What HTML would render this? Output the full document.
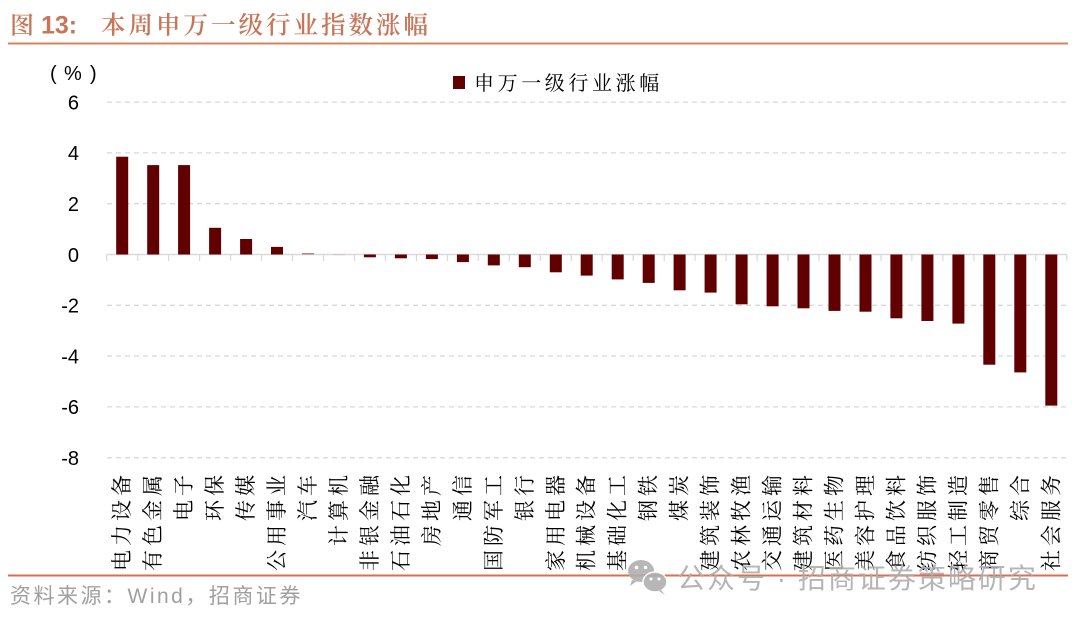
<!DOCTYPE html>
<html>
<head>
<meta charset="utf-8">
<style>
html,body{margin:0;padding:0;background:#fff;}
svg{display:block;}
</style>
</head>
<body>
<svg width="1080" height="620" viewBox="0 0 1080 620" xmlns="http://www.w3.org/2000/svg">
  <rect width="1080" height="620" fill="#fff"/>

  <!-- Title -->
  <text x="10" y="33.5" font-family="'Noto Serif CJK SC', serif" font-weight="600" font-size="24" fill="#c8765a">图</text>
  <text x="41" y="33.5" font-family="'Liberation Sans', sans-serif" font-weight="bold" font-size="25" fill="#c8765a">13:</text>
  <text x="101" y="33.5" font-family="'Liberation Sans','Noto Serif CJK SC', serif" font-weight="600" font-size="24.5" letter-spacing="3" fill="#c8765a">本周申万一级行业指数涨幅</text>
  <line x1="8" y1="43.5" x2="1068" y2="43.5" stroke="#d4845f" stroke-width="2"/>

  <!-- Unit label -->
  <text x="50" y="80" font-family="'Liberation Sans', sans-serif" font-size="20" fill="#000">(</text>
  <text x="64" y="80" font-family="'Liberation Sans', sans-serif" font-size="20" fill="#000">%</text>
  <text x="90" y="80" font-family="'Liberation Sans', sans-serif" font-size="20" fill="#000">)</text>

  <!-- Legend -->
  <rect x="453" y="76" width="12" height="13" fill="#600000"/>
  <text x="474" y="90" font-family="'Liberation Serif','Noto Serif CJK SC', serif" font-size="20" letter-spacing="3.6" fill="#000">申万一级行业涨幅</text>

  <!-- Gridlines -->
  <g stroke="#d9d9d9" stroke-width="1.3" stroke-dasharray="5,4">
    <line x1="107" y1="102.1" x2="1067" y2="102.1"/>
    <line x1="107" y1="152.9" x2="1067" y2="152.9"/>
    <line x1="107" y1="203.7" x2="1067" y2="203.7"/>
    <line x1="107" y1="305.3" x2="1067" y2="305.3"/>
    <line x1="107" y1="356.1" x2="1067" y2="356.1"/>
    <line x1="107" y1="406.9" x2="1067" y2="406.9"/>
    <line x1="107" y1="457.7" x2="1067" y2="457.7"/>
  </g>

  <!-- Y tick labels -->
  <g font-family="'Liberation Sans', sans-serif" font-size="20" fill="#000" text-anchor="end">
    <text x="79" y="109.4">6</text>
    <text x="79" y="160.2">4</text>
    <text x="79" y="211">2</text>
    <text x="79" y="261.8">0</text>
    <text x="79" y="312.6">-2</text>
    <text x="79" y="363.4">-4</text>
    <text x="79" y="414.2">-6</text>
    <text x="79" y="465">-8</text>
  </g>

  <!-- Zero axis and ticks -->
  <line x1="106.7" y1="254.5" x2="1066.8" y2="254.5" stroke="#d9d9d9" stroke-width="1.5"/>
  <g stroke="#d9d9d9" stroke-width="1.2">
    <line x1="106.7" y1="254.5" x2="106.7" y2="261"/>
    <line x1="137.7" y1="254.5" x2="137.7" y2="261"/>
    <line x1="168.6" y1="254.5" x2="168.6" y2="261"/>
    <line x1="199.6" y1="254.5" x2="199.6" y2="261"/>
    <line x1="230.6" y1="254.5" x2="230.6" y2="261"/>
    <line x1="261.6" y1="254.5" x2="261.6" y2="261"/>
    <line x1="292.5" y1="254.5" x2="292.5" y2="261"/>
    <line x1="323.5" y1="254.5" x2="323.5" y2="261"/>
    <line x1="354.5" y1="254.5" x2="354.5" y2="261"/>
    <line x1="385.4" y1="254.5" x2="385.4" y2="261"/>
    <line x1="416.4" y1="254.5" x2="416.4" y2="261"/>
    <line x1="447.4" y1="254.5" x2="447.4" y2="261"/>
    <line x1="478.3" y1="254.5" x2="478.3" y2="261"/>
    <line x1="509.3" y1="254.5" x2="509.3" y2="261"/>
    <line x1="540.3" y1="254.5" x2="540.3" y2="261"/>
    <line x1="571.3" y1="254.5" x2="571.3" y2="261"/>
    <line x1="602.2" y1="254.5" x2="602.2" y2="261"/>
    <line x1="633.2" y1="254.5" x2="633.2" y2="261"/>
    <line x1="664.2" y1="254.5" x2="664.2" y2="261"/>
    <line x1="695.1" y1="254.5" x2="695.1" y2="261"/>
    <line x1="726.1" y1="254.5" x2="726.1" y2="261"/>
    <line x1="757.1" y1="254.5" x2="757.1" y2="261"/>
    <line x1="788" y1="254.5" x2="788" y2="261"/>
    <line x1="819" y1="254.5" x2="819" y2="261"/>
    <line x1="850" y1="254.5" x2="850" y2="261"/>
    <line x1="881" y1="254.5" x2="881" y2="261"/>
    <line x1="911.9" y1="254.5" x2="911.9" y2="261"/>
    <line x1="942.9" y1="254.5" x2="942.9" y2="261"/>
    <line x1="973.9" y1="254.5" x2="973.9" y2="261"/>
    <line x1="1004.8" y1="254.5" x2="1004.8" y2="261"/>
    <line x1="1035.8" y1="254.5" x2="1035.8" y2="261"/>
    <line x1="1066.8" y1="254.5" x2="1066.8" y2="261"/>
  </g>

  <!-- Bars -->
  <g fill="#600000">
    <rect x="116.2" y="156.7" width="12" height="97.8"/>
    <rect x="147.2" y="165.1" width="12" height="89.4"/>
    <rect x="178.1" y="165.1" width="12" height="89.4"/>
    <rect x="209.1" y="227.8" width="12" height="26.7"/>
    <rect x="240.1" y="239" width="12" height="15.5"/>
    <rect x="271" y="246.9" width="12" height="7.6"/>
    <rect x="302" y="253" width="12" height="1.5" fill="#b88888"/>
    <rect x="333" y="254.5" width="12" height="0.6" fill="#d0b0b0"/>
    <rect x="363.9" y="254.5" width="12" height="2.8"/>
    <rect x="394.9" y="254.5" width="12" height="3.8"/>
    <rect x="425.9" y="254.5" width="12" height="4.6"/>
    <rect x="456.9" y="254.5" width="12" height="7.6"/>
    <rect x="487.8" y="254.5" width="12" height="10.9"/>
    <rect x="518.8" y="254.5" width="12" height="12.7"/>
    <rect x="549.8" y="254.5" width="12" height="17.8"/>
    <rect x="580.7" y="254.5" width="12" height="21.1"/>
    <rect x="611.7" y="254.5" width="12" height="24.9"/>
    <rect x="642.7" y="254.5" width="12" height="28.4"/>
    <rect x="673.6" y="254.5" width="12" height="35.8"/>
    <rect x="704.6" y="254.5" width="12" height="38.1"/>
    <rect x="735.6" y="254.5" width="12" height="49.8"/>
    <rect x="766.6" y="254.5" width="12" height="51.8"/>
    <rect x="797.5" y="254.5" width="12" height="53.8"/>
    <rect x="828.5" y="254.5" width="12" height="56.4"/>
    <rect x="859.5" y="254.5" width="12" height="57.2"/>
    <rect x="890.4" y="254.5" width="12" height="63.8"/>
    <rect x="921.4" y="254.5" width="12" height="66.5"/>
    <rect x="952.4" y="254.5" width="12" height="69.1"/>
    <rect x="983.3" y="254.5" width="12" height="110.2"/>
    <rect x="1014.3" y="254.5" width="12" height="117.9"/>
    <rect x="1045.3" y="254.5" width="12" height="151.1"/>
  </g>

  <!-- X labels (rotated) -->
  <g font-family="'Liberation Serif','Noto Serif CJK SC', serif" font-size="21" fill="#000" letter-spacing="4" dominant-baseline="central">
    <text transform="translate(122.2,571) rotate(-90)">电力设备</text>
    <text transform="translate(153.2,571) rotate(-90)">有色金属</text>
    <text transform="translate(184.1,521) rotate(-90)">电子</text>
    <text transform="translate(215.1,521) rotate(-90)">环保</text>
    <text transform="translate(246.1,521) rotate(-90)">传媒</text>
    <text transform="translate(277,571) rotate(-90)">公用事业</text>
    <text transform="translate(308,521) rotate(-90)">汽车</text>
    <text transform="translate(339,546) rotate(-90)">计算机</text>
    <text transform="translate(369.9,571) rotate(-90)">非银金融</text>
    <text transform="translate(400.9,571) rotate(-90)">石油石化</text>
    <text transform="translate(431.9,546) rotate(-90)">房地产</text>
    <text transform="translate(462.9,521) rotate(-90)">通信</text>
    <text transform="translate(493.8,571) rotate(-90)">国防军工</text>
    <text transform="translate(524.8,521) rotate(-90)">银行</text>
    <text transform="translate(555.8,571) rotate(-90)">家用电器</text>
    <text transform="translate(586.7,571) rotate(-90)">机械设备</text>
    <text transform="translate(617.7,571) rotate(-90)">基础化工</text>
    <text transform="translate(648.7,521) rotate(-90)">钢铁</text>
    <text transform="translate(679.6,521) rotate(-90)">煤炭</text>
    <text transform="translate(710.6,571) rotate(-90)">建筑装饰</text>
    <text transform="translate(741.6,571) rotate(-90)">农林牧渔</text>
    <text transform="translate(772.6,571) rotate(-90)">交通运输</text>
    <text transform="translate(803.5,571) rotate(-90)">建筑材料</text>
    <text transform="translate(834.5,571) rotate(-90)">医药生物</text>
    <text transform="translate(865.5,571) rotate(-90)">美容护理</text>
    <text transform="translate(896.4,571) rotate(-90)">食品饮料</text>
    <text transform="translate(927.4,571) rotate(-90)">纺织服饰</text>
    <text transform="translate(958.4,571) rotate(-90)">轻工制造</text>
    <text transform="translate(989.3,571) rotate(-90)">商贸零售</text>
    <text transform="translate(1020.3,521) rotate(-90)">综合</text>
    <text transform="translate(1051.3,571) rotate(-90)">社会服务</text>
  </g>

  <!-- Footer line -->
  <line x1="8" y1="575.5" x2="1068" y2="575.5" stroke="#d8704f" stroke-width="2"/>

  <!-- Source -->
  <text x="10" y="603" font-family="'Liberation Sans','Noto Sans CJK SC', sans-serif" font-size="21" letter-spacing="2.5" fill="#a0a0a0">资料来源：Wind，招商证券</text>

  <!-- Watermark -->
  <g fill="#b0b0b0" opacity="0.9">
    <ellipse cx="641" cy="571" rx="13" ry="11"/>
    <path d="M632 580 L630 586 L637 581 Z"/>
    <ellipse cx="655" cy="582" rx="12" ry="10" stroke="#fff" stroke-width="1.5"/>
    <path d="M661 590 L665 595 L659 591 Z"/>
  </g>
  <g fill="#fff">
    <circle cx="636.5" cy="567.5" r="1.8"/>
    <circle cx="645.5" cy="567.5" r="1.8"/>
    <circle cx="651" cy="579" r="1.5"/>
    <circle cx="659" cy="579" r="1.5"/>
  </g>
  <text x="677" y="588" font-family="'Liberation Sans','Noto Sans CJK SC', sans-serif" font-size="28" letter-spacing="2" fill="#adadad" opacity="0.9">公众号 · 招商证券策略研究</text>
</svg>
</body>
</html>
